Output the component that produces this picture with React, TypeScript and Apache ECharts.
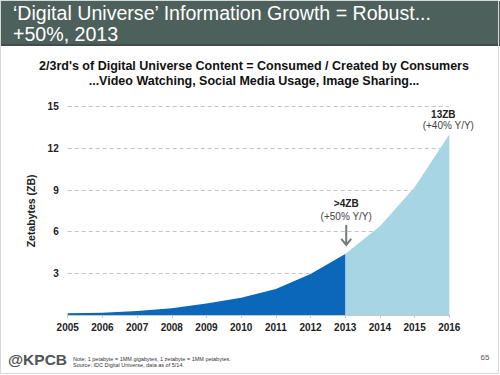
import React, { useEffect, useRef } from "react";
import * as echarts from "echarts";

const years = ["2005", "2006", "2007", "2008", "2009", "2010", "2011", "2012", "2013", "2014", "2015", "2016"];
const actual = [0.13, 0.17, 0.28, 0.49, 0.82, 1.25, 1.88, 2.95, 4.4, null, null, null];
const forecast = [null, null, null, null, null, null, null, null, 4.4, 6.4, 9.2, 13.0];
const yTicks = [0, 3, 6, 9, 12, 15];

const titleLines = ["‘Digital Universe’ Information Growth = Robust...", "+50%, 2013"];
const subtitleLines = [
  "2/3rd's of Digital Universe Content = Consumed / Created by Consumers",
  "...Video Watching, Social Media Usage, Image Sharing...",
];
const annot2013 = { year: "2013", value: 4.4, head: ">4ZB", sub: "(+50% Y/Y)" };
const annot2016 = { year: "2016", value: 13.0, head: "13ZB", sub: "(+40% Y/Y)" };
const noteLines = [
  "Note: 1 petabyte = 1MM gigabytes, 1 zetabyte = 1MM petabytes.",
  "Source: IDC Digital Universe, data as of 5/14.",
];

const FONT = "Liberation Sans, Arial, sans-serif";

export default function App() {
  const ref = useRef<HTMLDivElement>(null);
  useEffect(() => {
    document.body.style.margin = "0";
    const chart = echarts.init(ref.current!, undefined, { renderer: "svg" });
    const option: any = {
      animation: false,
      backgroundColor: "#ffffff",
      grid: { left: 67.7, right: 50.7, top: 106.7, bottom: 60 },
      xAxis: {
        type: "category",
        data: years,
        boundaryGap: false,
        axisLine: { lineStyle: { color: "#c8c8c8" } },
        axisTick: { show: true, length: 3, lineStyle: { color: "#c8c8c8" } },
        axisLabel: { color: "#222", fontWeight: "bold", fontSize: 10, fontFamily: FONT, margin: 7 },
      },
      yAxis: {
        type: "value",
        min: yTicks[0],
        max: yTicks[yTicks.length - 1],
        interval: 3,
        name: "Zetabytes (ZB)",
        nameLocation: "middle",
        nameGap: 27,
        nameTextStyle: { color: "#222", fontWeight: "bold", fontSize: 10.5, fontFamily: FONT },
        axisLine: { show: false },
        axisTick: { show: false },
        axisLabel: {
          color: "#222",
          fontWeight: "bold",
          fontSize: 10,
          fontFamily: FONT,
          margin: 9,
          formatter: (v: number) => (v === 0 ? "" : String(v)),
        },
        splitLine: { lineStyle: { color: "#c4c4c4", type: [4, 3], width: 1 } },
      },
      series: [
        {
          type: "line",
          data: actual,
          symbol: "none",
          lineStyle: { width: 0, color: "#0a67b9" },
          areaStyle: { color: "#0a67b9", opacity: 1 },
          z: 3,
        },
        {
          type: "line",
          data: forecast,
          symbol: "none",
          lineStyle: { width: 0, color: "#a8d5e3" },
          areaStyle: { color: "#a8d5e3", opacity: 1 },
          z: 2,
        },
      ],
    };
    chart.setOption(option);

    const p13 = chart.convertToPixel({ gridIndex: 0 }, [annot2013.year, annot2013.value]) as number[];
    const p16 = chart.convertToPixel({ gridIndex: 0 }, [annot2016.year, annot2016.value]) as number[];

    const arrowColor = "#6f7d78";
    const graphic: any[] = [
      { type: "rect", shape: { x: 0, y: 1, width: 500, height: 45 }, style: { fill: "#4e605c" } },
      { type: "rect", shape: { x: 0, y: 44, width: 500, height: 2 }, style: { fill: "#3e4d4a" } },
      {
        type: "text",
        x: 13,
        y: 2,
        style: {
          text: titleLines.join("\n"),
          fill: "#ffffff",
          font: `19.6px ${FONT}`,
          lineHeight: 21,
        },
      },
      {
        type: "text",
        x: 254,
        y: 58,
        style: {
          text: subtitleLines.join("\n"),
          fill: "#111",
          font: `bold 12.5px ${FONT}`,
          lineHeight: 15,
          align: "center",
        },
      },
      {
        type: "text",
        x: p13[0] + 1,
        y: p13[1] - 55,
        style: { text: annot2013.head, fill: "#222", font: `bold 10px ${FONT}`, align: "center" },
      },
      {
        type: "text",
        x: p13[0] + 1,
        y: p13[1] - 42,
        style: { text: annot2013.sub, fill: "#444", font: `10px ${FONT}`, align: "center" },
      },
      {
        type: "line",
        shape: { x1: p13[0] + 1, y1: p13[1] - 29, x2: p13[0] + 1, y2: p13[1] - 9 },
        style: { stroke: arrowColor, lineWidth: 2 },
      },
      {
        type: "polyline",
        shape: {
          points: [
            [p13[0] - 4, p13[1] - 15],
            [p13[0] + 1, p13[1] - 9],
            [p13[0] + 6, p13[1] - 15],
          ],
        },
        style: { stroke: arrowColor, lineWidth: 2, fill: null },
      },
      {
        type: "text",
        x: p16[0] - 6,
        y: p16[1] - 25,
        style: { text: annot2016.head, fill: "#222", font: `bold 10px ${FONT}`, align: "center" },
      },
      {
        type: "text",
        x: p16[0] - 1,
        y: p16[1] - 14,
        style: { text: annot2016.sub, fill: "#444", font: `10px ${FONT}`, align: "center" },
      },
      {
        type: "text",
        x: 8,
        y: 351,
        style: { text: "@KPCB", fill: "#4f5553", font: `bold 15.5px ${FONT}` },
      },
      {
        type: "text",
        x: 73,
        y: 356,
        style: { text: noteLines.join("\n"), fill: "#333", font: `5.5px ${FONT}`, lineHeight: 6 },
      },
      {
        type: "text",
        x: 485,
        y: 353,
        style: { text: "65", fill: "#555", font: `8px ${FONT}`, align: "center" },
      },
      {
        type: "rect",
        shape: { x: 0.5, y: 0.5, width: 498, height: 373 },
        style: { fill: null, stroke: "#d8d8d8", lineWidth: 1 },
        z: 100,
      },
    ];
    chart.setOption({ graphic });
    return () => chart.dispose();
  }, []);
  return <div ref={ref} style={{ width: 500, height: 375 }} />;
}
